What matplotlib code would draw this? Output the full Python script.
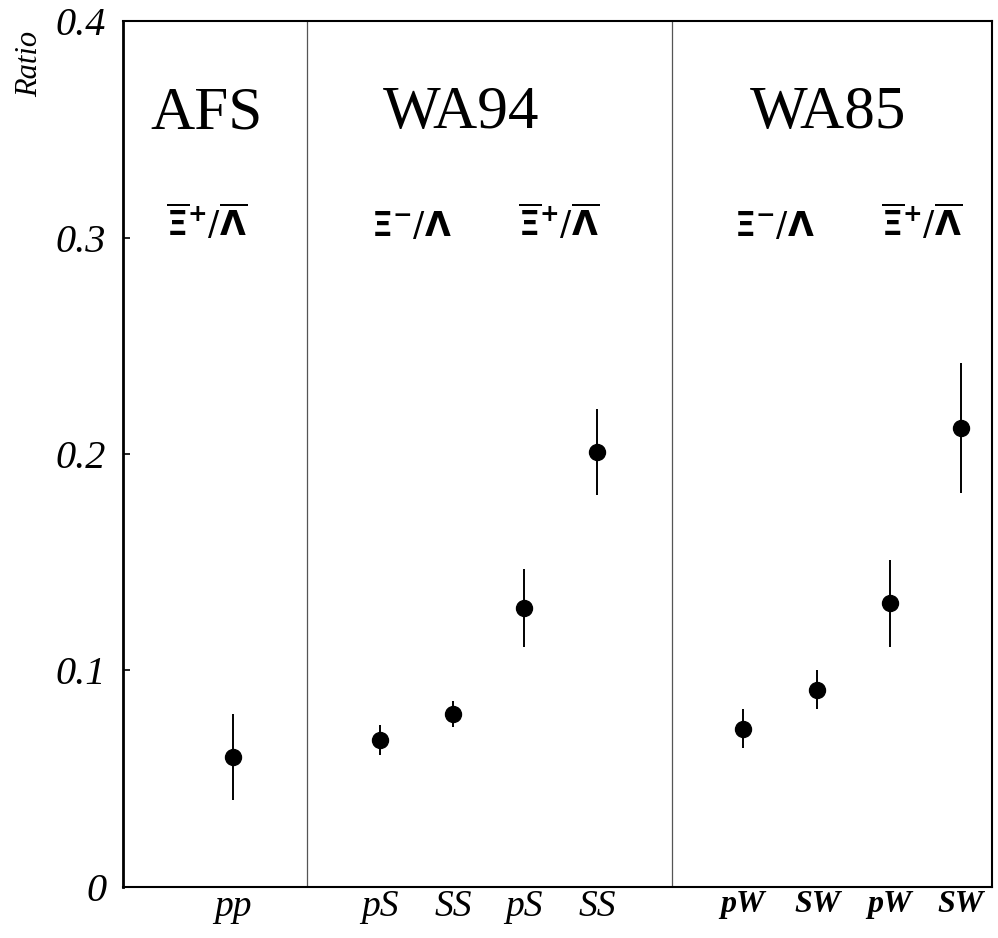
import matplotlib
matplotlib.use("Agg")
import matplotlib.pyplot as plt

plt.rcParams['mathtext.fontset'] = 'dejavusans'

# x positions (arbitrary units, one slot per measurement)
x_pos = [1.52, 3.55, 4.56, 5.54, 6.55, 8.56, 9.59, 10.59, 11.57]
labels = ["pp", "pS", "SS", "pS", "SS", "pW", "SW", "pW", "SW"]
ratio = [0.060, 0.068, 0.080, 0.129, 0.201, 0.073, 0.091, 0.131, 0.212]
err = [0.020, 0.007, 0.006, 0.018, 0.020, 0.009, 0.009, 0.020, 0.030]

dividers = [2.54, 7.58]
experiments = ["AFS", "WA94", "WA85"]
exp_x = [1.16, 4.67, 9.74]
xibar = r"$\overline{\boldsymbol{\Xi}}^{\mathbf{+}}/\overline{\boldsymbol{\Lambda}}$"
xi = r"$\boldsymbol{\Xi}^{\mathbf{-}}/\boldsymbol{\Lambda}$"
ratio_names = [xibar, xi, xibar, xi, xibar]
ratio_x = [1.16, 3.99, 6.01, 9.00, 11.02]

fig = plt.figure(figsize=(9.98, 9.38), dpi=100)
ax = fig.add_axes([0.1232, 0.0544, 0.8708, 0.9232])

ax.errorbar(x_pos, ratio, yerr=err, fmt='o', color='black', ms=11.5,
            elinewidth=1.4, capsize=0)

for d in dividers:
    ax.axvline(d, color='#555555', lw=0.9)

ax.set_xlim(0, 12)
ax.set_ylim(0, 0.4)

for name, xx in zip(experiments, exp_x):
    ax.text(xx, 0.3505, name, ha='center', va='baseline', fontsize=44,
            family='Liberation Serif')
for name, xx in zip(ratio_names, ratio_x):
    ax.text(xx, 0.3005, name, ha='center', va='baseline', fontsize=24)

ax.set_yticks([0, 0.1, 0.2, 0.3, 0.4])
ax.set_yticklabels(["0", "0.1", "0.2", "0.3", "0.4"], family='Liberation Serif',
                   style='italic', fontsize=29)
ax.tick_params(axis='y', direction='in', length=5, width=1.2, pad=12)

ax.set_xticks(x_pos)
ax.set_xticklabels(labels, family='Liberation Serif', style='italic', fontsize=27)
ax.tick_params(axis='x', length=0, pad=2)
for t in ax.get_xticklabels()[5:]:
    t.set_fontsize(23)
    t.set_fontweight('bold')

for s in ax.spines.values():
    s.set_linewidth(1.5)
ax.spines['left'].set_linewidth(2)

fig.text(30 / 998, 1 - 64 / 938, "Ratio", rotation=90, ha='center', va='center',
         family='Liberation Serif', style='italic', fontsize=22)

fig.savefig("out.png", dpi=100)
